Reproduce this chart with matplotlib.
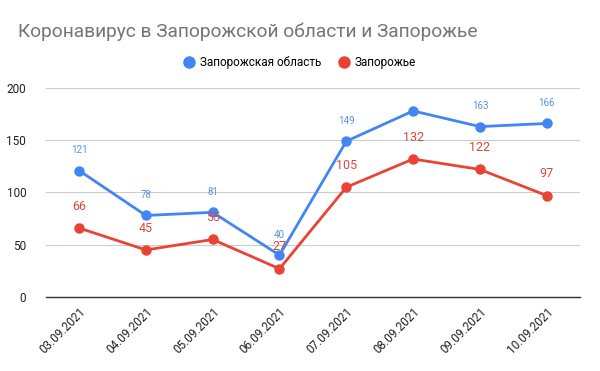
import matplotlib
matplotlib.use("Agg")
import matplotlib.pyplot as plt

plt.rcParams.update({"font.family": ["Roboto", "DejaVu Sans"]})

dates = ["03.09.2021", "04.09.2021", "05.09.2021", "06.09.2021",
         "07.09.2021", "08.09.2021", "09.09.2021", "10.09.2021"]
oblast = [121, 78, 81, 40, 149, 178, 163, 166]
city = [66, 45, 55, 27, 105, 132, 122, 97]
# the 178 point has no label in the picture
oblast_labels = ["121", "78", "81", "40", "149", "", "163", "166"]
city_labels = ["66", "45", "55", "27", "105", "132", "122", "97"]

BLUE, RED = "#4285f4", "#ea4335"

fig = plt.figure(figsize=(6, 3.71), dpi=100)
ax = fig.add_axes([0.076, 0.1995, 0.891, 0.5635])

x = range(len(dates))
ax.plot(x, oblast, color=BLUE, lw=2, marker="o", ms=6.5, label="Запорожская область", zorder=3)
ax.plot(x, city, color=RED, lw=2, marker="o", ms=6.5, label="Запорожье", zorder=3)

for i, (v, t) in enumerate(zip(oblast, oblast_labels)):
    if t:
        ax.annotate(t, (i, v), xytext=(0, 11), textcoords="offset points",
                    ha="center", va="bottom", fontsize=7, color="#5b8ee6")
for i, (v, t) in enumerate(zip(city, city_labels)):
    ax.annotate(t, (i, v), xytext=(0, 11), textcoords="offset points",
                ha="center", va="bottom", fontsize=9, color="#d9493d")

ax.set_xlim(-0.5, len(dates) - 0.5)
ax.set_ylim(0, 200)
ax.set_yticks([0, 50, 100, 150, 200])
ax.set_xticks(list(x))
ax.set_xticklabels(dates, rotation=45, ha="right", rotation_mode="anchor")
ax.tick_params(axis="both", length=0, labelsize=8.5, colors="#222222")
ax.tick_params(axis="x", pad=6)
ax.tick_params(axis="y", pad=14)
ax.grid(axis="y", color="#cccccc", lw=0.8)
ax.set_axisbelow(True)
for sp in ["top", "right", "left"]:
    ax.spines[sp].set_visible(False)
ax.spines["bottom"].set_color("#333333")
ax.spines["bottom"].set_linewidth(1)

fig.text(0.03, 0.915, "Коронавирус в Запорожской области и Запорожье",
         fontsize=13.8, color="#757575", va="center")
fig.legend(loc="center", bbox_to_anchor=(0.5, 0.832), ncol=2, frameon=False,
           fontsize=8.5, handlelength=0.8, handletextpad=0.5, columnspacing=1.5)
leg = fig.legends[0]
for h in leg.legend_handles:
    h.set_linestyle("none")
    h.set_markersize(8)

fig.savefig("out.png", dpi=100, facecolor="white")
